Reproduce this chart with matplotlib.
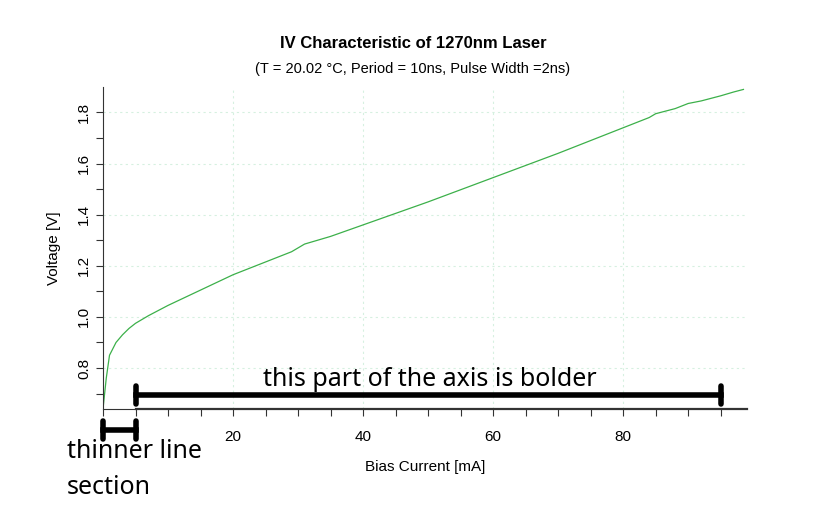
import matplotlib
matplotlib.use("Agg")
import matplotlib.pyplot as plt
from matplotlib.transforms import blended_transform_factory
import numpy as np

plt.rcParams["font.family"] = ["Liberation Sans", "DejaVu Sans"]

# IV curve
current = [0, 0.5, 1, 1.5, 2, 3, 4, 5, 7, 10, 15, 20, 25, 29, 30, 31, 35, 40, 50, 60, 70, 80, 84, 85, 88, 90, 92, 95, 97, 98.5]
voltage = [0.64, 0.76, 0.85, 0.875, 0.9, 0.93, 0.955, 0.975, 1.005, 1.045, 1.105, 1.165, 1.215, 1.255, 1.27, 1.285, 1.315, 1.36, 1.45, 1.545, 1.64, 1.74, 1.78, 1.795, 1.815, 1.835, 1.845, 1.865, 1.88, 1.89]

xticks = [20, 40, 60, 80]
yticks = [0.8, 1.0, 1.2, 1.4, 1.6, 1.8]

fig = plt.figure(figsize=(8.26, 5.08), dpi=100)
ax = fig.add_axes([0.1247, 0.195, 0.904 - 0.1247, 0.829 - 0.195])
ax.plot(current, voltage, color="#3cb04a", lw=0.9)
ax.set_xlim(0, 99)
ax.set_ylim(0.64, 1.9)

ax.set_xticks(xticks)
ax.set_xticks(np.arange(0, 100, 5), minor=True)
ax.set_yticks(yticks)
ax.set_yticks(np.arange(0.7, 1.9, 0.1), minor=True)
ax.tick_params(axis="both", which="both", direction="out", length=5, width=0.8, color="#333333", labelsize=11)
ax.tick_params(axis="x", which="major", pad=10)
plt.setp(ax.get_yticklabels(), rotation=90, va="center")
ax.grid(True, which="major", ls=(0, (2, 3)), color="#d6f0e0", lw=0.8)

for s in ["top", "right", "bottom"]:
    ax.spines[s].set_visible(False)
ax.spines["left"].set_linewidth(0.8)
ax.spines["left"].set_color("#333333")
# bottom axis: thin first section, bolder after x=5
tr = blended_transform_factory(ax.transData, ax.transAxes)
ax.plot([0, 5], [0, 0], transform=tr, color="#333333", lw=0.8, clip_on=False)
ax.plot([5, 99], [0, 0], transform=tr, color="#333333", lw=1.6, clip_on=False)

ax.set_xlabel("Bias Current [mA]", fontsize=11, labelpad=12)
ax.set_ylabel("Voltage [V]", fontsize=11, labelpad=12)

fig.text(0.5, 0.905, "IV Characteristic of 1270nm Laser", ha="center", fontsize=12, fontweight="bold")
fig.text(0.5, 0.856, "(T = 20.02 \u00b0C, Period = 10ns, Pulse Width =2ns)", ha="center", fontsize=10.5)

# annotations
fy = blended_transform_factory(ax.transData, fig.transFigure)
yb = 1 - 395 / 508
ax.plot([5, 95], [yb, yb], transform=fy, color="black", lw=4, clip_on=False)
for xx in [5, 95]:
    ax.plot([xx, xx], [yb - 0.018, yb + 0.018], transform=fy, color="black", lw=4,
            solid_capstyle="round", clip_on=False)
yl = 1 - 430 / 508
ax.plot([0, 5], [yl, yl], transform=fy, color="black", lw=4, clip_on=False)
for xx in [0, 5]:
    ax.plot([xx, xx], [yl - 0.018, yl + 0.018], transform=fy, color="black", lw=4,
            solid_capstyle="round", clip_on=False)

fig.text(430 / 826, 1 - 380 / 508, "this part of the axis is bolder", ha="center", va="center",
         fontsize=18, family="Noto Sans")
fig.text(67 / 826, 1 - 452 / 508, "thinner line", ha="left", va="center", fontsize=18, family="Noto Sans")
fig.text(67 / 826, 1 - 488 / 508, "section", ha="left", va="center", fontsize=18, family="Noto Sans")

fig.savefig("out.png", dpi=100)
